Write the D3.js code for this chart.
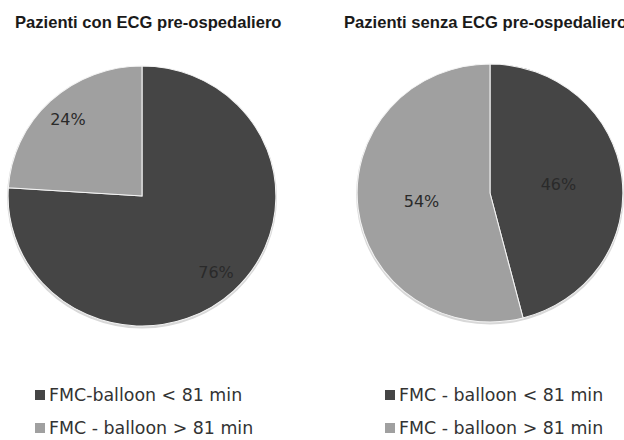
<!DOCTYPE html>
<html>
  <head>
    <meta charset="utf-8">
    <script src="https://cdn.jsdelivr.net/npm/d3@7"></script>
    <style>
      body { margin: 0; background: #fff; }
      .title { font-family: "Liberation Sans", Arial, sans-serif; font-weight: bold; font-size: 16.6px; fill: #1a1a1a; }
      .lbl { font-family: "DejaVu Sans", sans-serif; font-size: 16px; fill: #2a2a2a; }
      .leg { font-family: "DejaVu Sans", sans-serif; font-size: 17.4px; fill: #333; }
    </style>
  </head>
  <body>
    <script>
      WIDTH = 624
      HEIGHT = 440

      // data
      var titles = ["Pazienti con ECG pre-ospedaliero", "Pazienti senza ECG pre-ospedaliero"]
      var categories = ["< 81 min", "> 81 min"]
      var withEcg = [76, 24]
      var withoutEcg = [46, 54]
      var legendLeft = ["FMC-balloon < 81 min", "FMC - balloon > 81 min"]
      var legendRight = ["FMC - balloon < 81 min", "FMC - balloon > 81 min"]
      var colors = ["#454545", "#a0a0a0"]

      var svg = d3.select("body").append("svg")
        .attr("width", WIDTH)
        .attr("height", HEIGHT)

      var color = d3.scaleOrdinal().domain(categories).range(colors)

      var charts = [
        { title: titles[0], values: withEcg, cx: 142, cy: 196, r: 130, lr: 105, tx: 15, legend: legendLeft, lx: 35, lt: 49 },
        { title: titles[1], values: withoutEcg, cx: 490, cy: 193, r: 129, lr: 67, tx: 344, legend: legendRight, lx: 385, lt: 399 }
      ]

      var pie = d3.pie().sort(null).value(function(d) { return d.v })

      charts.forEach(function(c) {
        svg.append("text").attr("class", "title")
          .attr("x", c.tx).attr("y", 28)
          .text(c.title)

        var data = categories.map(function(k, i) { return { k: k, v: c.values[i] } })
        var arcs = pie(data)
        var arc = d3.arc().innerRadius(0).outerRadius(c.r)
        var labelArc = d3.arc().innerRadius(c.lr).outerRadius(c.lr)

        var g = svg.append("g").attr("transform", "translate(" + c.cx + "," + c.cy + ") scale(1.03,1)")

        // soft shadow under the pie
        g.append("circle").attr("r", c.r + 1).attr("cy", 1.5)
          .attr("fill", "#d8d8d8")

        g.selectAll("path").data(arcs).enter().append("path")
          .attr("d", arc)
          .attr("fill", function(d) { return color(d.data.k) })
          .attr("stroke", "#f4f4f4")
          .attr("stroke-width", 1)

        g.selectAll("text").data(arcs).enter().append("text")
          .attr("class", "lbl")
          .attr("transform", function(d) {
            var p = labelArc.centroid(d)
            return "translate(" + p[0] + "," + p[1] + ") scale(" + (1 / 1.03) + ",1)"
          })
          .attr("text-anchor", "middle")
          .attr("dy", "0.35em")
          .text(function(d) { return d.data.v + "%" })

        // legend
        c.legend.forEach(function(t, i) {
          svg.append("rect")
            .attr("x", c.lx).attr("y", 390 + i * 33)
            .attr("width", 10).attr("height", 10)
            .attr("fill", colors[i])
          svg.append("text").attr("class", "leg")
            .attr("x", c.lt).attr("y", 401 + i * 33)
            .text(t)
        })
      })
    </script>
  </body>
</html>
